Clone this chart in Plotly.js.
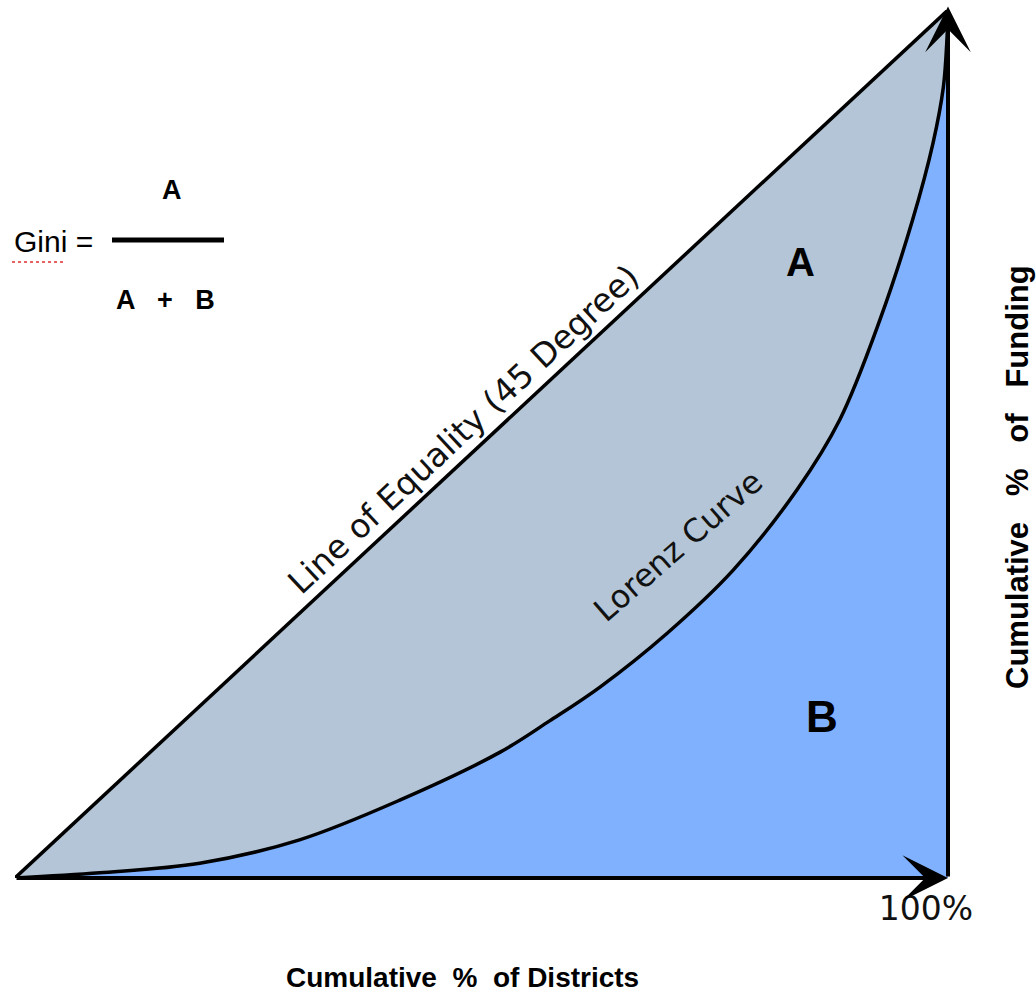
<!DOCTYPE html>
<html><head><meta charset="utf-8">
<script src="https://cdn.plot.ly/plotly-3.0.1.min.js"></script>
<style>html,body{margin:0;padding:0;background:#fff}</style>
</head><body><div id="chart" style="width:1036px;height:993px"></div>
<script>
// Lorenz curve: cumulative % of districts vs cumulative % of funding
const districtsPct = [0, 9.1, 19.8, 30.5, 41.3, 52.0, 57.3, 62.7, 69.9, 77.0, 83.8, 88.4, 92.7, 96.2, 98.4, 99.5, 99.9, 100];
const fundingPct   = [0, 0.6, 1.7, 4.4, 9.0, 14.5, 18.1, 22.0, 28.2, 35.5, 44.7, 52.8, 64.3, 75.8, 84.7, 91.1, 96.9, 100];
// Line of equality (45 degree)
const equalityX = [0, 100];
const equalityY = [0, 100];
const xTickVals = [100];
const xTickText = ['100%'];
const labels = {
  equality: 'Line of Equality (45 Degree)',
  lorenz: 'Lorenz Curve',
  areaA: 'A',
  areaB: 'B',
  xTitle: 'Cumulative  %  of Districts',
  yTitle: 'Cumulative   %   of   Funding',
  gini: 'Gini =',
  numerator: 'A',
  denominator: 'A   +   B'
};

const W = 1036, H = 993;
const M = {l: 15, r: 88, t: 10, b: 115};
const PW = W - M.l - M.r, PH = H - M.t - M.b;
const px = v => (v - M.l) / PW;        // pixel x -> paper
const py = v => (M.t + PH - v) / PH;   // pixel y -> paper

const traces = [
  {x: equalityX, y: equalityY, type: 'scatter', mode: 'lines', fill: 'tozeroy',
   fillcolor: '#b3c5d6', line: {color: '#000', width: 3.5}, hoverinfo: 'skip', showlegend: false},
  {x: districtsPct, y: fundingPct, type: 'scatter', mode: 'lines', fill: 'tozeroy',
   fillcolor: '#80b1ff', line: {color: '#000', width: 3.5, shape: 'spline', smoothing: 1},
   hoverinfo: 'skip', showlegend: false}
];

const sansBold = {family: 'Liberation Sans, Arial, sans-serif', color: '#000', weight: 'bold'};
const dejavu = {family: 'DejaVu Sans, sans-serif', color: '#111'};

function label(xp, yp, text, font, angle) {
  return {xref: 'paper', yref: 'paper', x: px(xp), y: py(yp), text: text, showarrow: false,
          xanchor: 'center', yanchor: 'middle', textangle: angle || 0, font: font};
}

const layout = {
  width: W, height: H,
  margin: M,
  paper_bgcolor: '#fff', plot_bgcolor: '#fff',
  showlegend: false,
  xaxis: {
    range: [0, 100], showgrid: false, zeroline: false, showline: false,
    tickvals: xTickVals, ticktext: xTickText, ticks: '',
    tickfont: Object.assign({size: 33}, dejavu), ticklabelshift: -22, ticklabelstandoff: 8,
    fixedrange: true, automargin: false
  },
  yaxis: {
    range: [0, 100], side: 'right', showgrid: false, zeroline: false, showline: false,
    showticklabels: false, ticks: '', fixedrange: true, automargin: false
  },
  shapes: [
    {type: 'line', xref: 'paper', yref: 'paper', x0: px(112), x1: px(224), y0: py(240), y1: py(240),
     line: {color: '#000', width: 5}},
    {type: 'line', xref: 'paper', yref: 'paper', x0: px(12), x1: px(66), y0: py(262), y1: py(262),
     line: {color: '#e03030', width: 1.5, dash: 'dot'}}
  ],
  annotations: [
    // axes arrows
    {x: 100, y: 100.4, ax: 100, ay: 0, xref: 'x', yref: 'y', axref: 'x', ayref: 'y', text: '',
     showarrow: true, arrowhead: 3, arrowsize: 1.9, arrowwidth: 4, arrowcolor: '#000', standoff: 0},
    {x: 100, y: 0, ax: 0, ay: 0, xref: 'x', yref: 'y', axref: 'x', ayref: 'y', text: '',
     showarrow: true, arrowhead: 3, arrowsize: 1.9, arrowwidth: 4, arrowcolor: '#000', standoff: 0},
    // axis titles
    label(462, 977, labels.xTitle, Object.assign({size: 28}, sansBold)),
    label(1017, 477, labels.yTitle, Object.assign({size: 31}, sansBold), -90),
    // curve labels
    label(463, 429, labels.equality, Object.assign({size: 33}, dejavu), -42.9),
    label(678, 546, labels.lorenz, Object.assign({size: 32}, dejavu), -41),
    label(800, 262, labels.areaA, Object.assign({size: 40}, sansBold)),
    label(822, 716, labels.areaB, Object.assign({size: 44}, sansBold)),
    // Gini formula
    label(53, 242, labels.gini, {family: 'Liberation Sans, Arial, sans-serif', size: 30, color: '#000'}),
    label(172, 190, labels.numerator, Object.assign({size: 27}, sansBold)),
    label(165, 300, labels.denominator, Object.assign({size: 27}, sansBold))
  ]
};

Plotly.newPlot('chart', traces, layout, {displayModeBar: false, staticPlot: true});
</script></body></html>
